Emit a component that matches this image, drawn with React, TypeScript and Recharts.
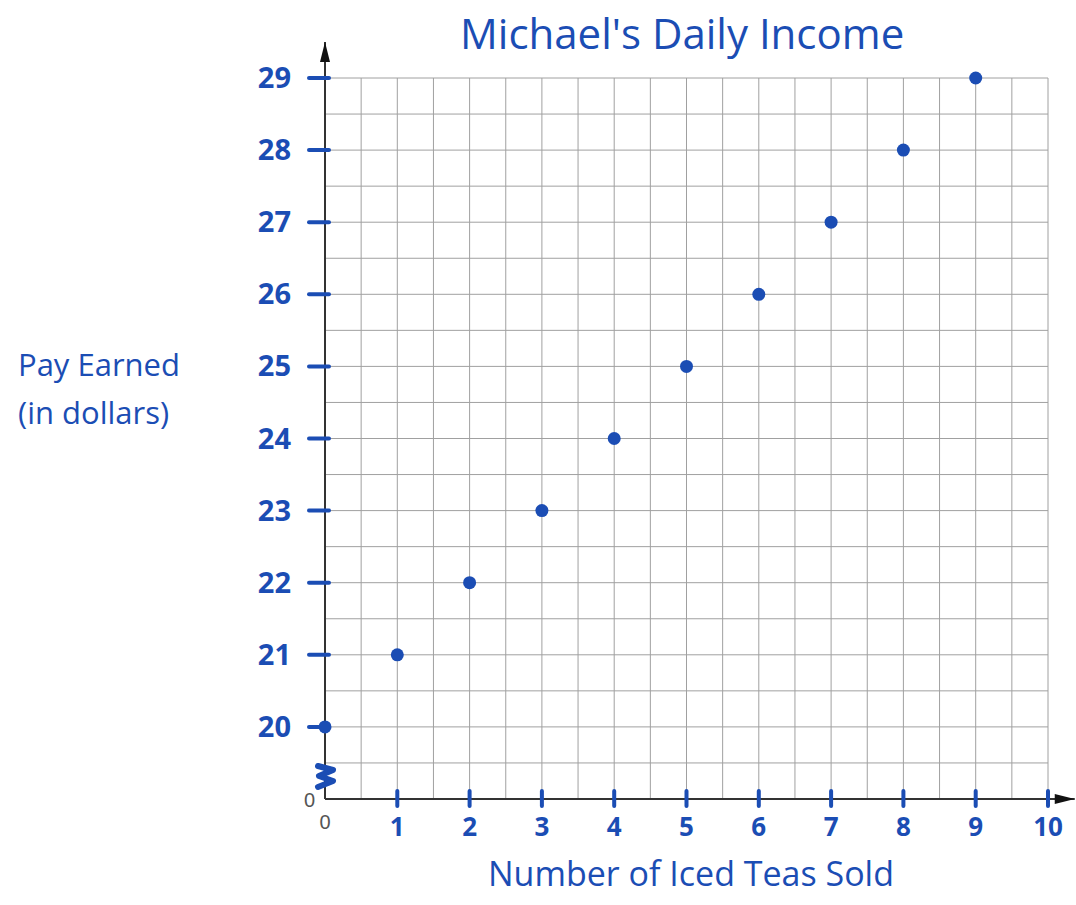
import React from 'react';
import { ScatterChart, Scatter, XAxis, YAxis, CartesianGrid, ReferenceLine } from 'recharts';

// Ink colours
const INK = '#1b4db4';
const GRID = '#a0a0a0';
const AXIS = '#333333';
const PRINT = '#555555';

// Data
const teasSold = [0, 1, 2, 3, 4, 5, 6, 7, 8, 9];
const payEarned = [20, 21, 22, 23, 24, 25, 26, 27, 28, 29];

// The y axis is broken between 0 and 20: 20 sits one unit above the origin
const BREAK = 19;

const xLabels = ['0', '1', '2', '3', '4', '5', '6', '7', '8', '9', '10'];
const yLabels = ['0', '20', '21', '22', '23', '24', '25', '26', '27', '28', '29'];

// Graph paper lines every half unit
const gridSteps = Array.from({ length: 21 }, (_, i) => i / 2);

const data = teasSold.map((t, i) => ({ x: t, y: payEarned[i] - BREAK }));

const hand: React.CSSProperties = {
  position: 'absolute',
  color: INK,
  fontFamily: '"Open Sans", sans-serif',
  whiteSpace: 'nowrap',
};

const YTick = (props: any) => {
  const { x, y, payload } = props;
  const v = payload.value;
  if (!Number.isInteger(v)) return null;
  if (v === 0) {
    return (
      <g>
        <text x={x - 10} y={y + 8} textAnchor="end" fill={PRINT} style={{ fontSize: 20 }} fontFamily="Arial, sans-serif">0</text>
        <path
          d={`M${x - 7},${y - 33} L${x + 8},${y - 29} L${x - 6},${y - 23} L${x + 8},${y - 18} L${x - 7},${y - 12}`}
          stroke={INK} strokeWidth={6} fill="none" strokeLinejoin="round" strokeLinecap="round"
        />
      </g>
    );
  }
  return (
    <g>
      <line x1={x - 16} y1={y} x2={x + 4} y2={y} stroke={INK} strokeWidth={4} strokeLinecap="round" />
      <text x={x - 34} y={y + 10} textAnchor="end" fill={INK} style={{ fontSize: 29 }} fontWeight={700}
        fontFamily='"Open Sans", sans-serif'>{yLabels[v]}</text>
    </g>
  );
};

const XTick = (props: any) => {
  const { x, y, payload } = props;
  const v = payload.value;
  if (!Number.isInteger(v)) return null;
  if (v === 0) {
    return (
      <text x={x} y={y + 30} textAnchor="middle" fill={PRINT} style={{ fontSize: 20 }} fontFamily="Arial, sans-serif">0</text>
    );
  }
  return (
    <g>
      <line x1={x} y1={y - 8} x2={x} y2={y + 7} stroke={INK} strokeWidth={4} strokeLinecap="round" />
      <text x={x} y={y + 37} textAnchor="middle" fill={INK} style={{ fontSize: 26 }} fontWeight={700}
        fontFamily='"Open Sans", sans-serif'>{xLabels[v]}</text>
    </g>
  );
};

const ArrowLine = (dir: 'up' | 'right') => (props: any) => {
  const { x1, y1, x2, y2 } = props;
  const tipX = dir === 'up' ? x1 : Math.max(x1, x2);
  const tipY = dir === 'up' ? Math.min(y1, y2) : y1;
  const head = dir === 'up'
    ? `${tipX},${tipY} ${tipX - 5},${tipY + 20} ${tipX + 5},${tipY + 20}`
    : `${tipX},${tipY} ${tipX - 20},${tipY - 5} ${tipX - 20},${tipY + 5}`;
  return (
    <g>
      <line x1={x1} y1={y1} x2={x2} y2={y2} stroke={AXIS} strokeWidth={2} />
      <polygon points={head} fill="#111" />
    </g>
  );
};

const Dot = (props: any) => {
  const { cx, cy } = props;
  return <circle cx={cx} cy={cy} r={6.5} fill={INK} />;
};

export default function App() {
  return (
    <div style={{ position: 'absolute', left: 0, top: 0, width: 1076, height: 905, background: '#fff' }}>
      <ScatterChart width={1076} height={905} margin={{ top: 78, right: 28, bottom: 46, left: 265 }}>
        <CartesianGrid stroke={GRID} strokeWidth={1} horizontalValues={gridSteps} verticalValues={gridSteps} />
        <XAxis
          type="number" dataKey="x" domain={[0, 10]} ticks={gridSteps} height={60}
          axisLine={false} tickLine={false} tickSize={0} tickMargin={0} tick={XTick} interval={0}
        />
        <YAxis
          type="number" dataKey="y" domain={[0, 10]} ticks={gridSteps} width={60}
          axisLine={false} tickLine={false} tickSize={0} tickMargin={0} tick={YTick} interval={0}
        />
        <ReferenceLine segment={[{ x: 0, y: 0 }, { x: 0, y: 10.5 }]} ifOverflow="visible" shape={ArrowLine('up')} />
        <ReferenceLine segment={[{ x: 0, y: 0 }, { x: 10.37, y: 0 }]} ifOverflow="visible" shape={ArrowLine('right')} />
        <Scatter data={data} shape={<Dot />} isAnimationActive={false} />
      </ScatterChart>
      <div style={{ ...hand, left: 460, top: 4, fontSize: 42 }}>Michael's Daily Income</div>
      <div style={{ ...hand, left: 18, top: 340, fontSize: 31, lineHeight: '48px' }}>
        Pay Earned<br />(in dollars)
      </div>
      <div style={{ ...hand, left: 488, top: 850, fontSize: 34 }}>Number of Iced Teas Sold</div>
    </div>
  );
}
